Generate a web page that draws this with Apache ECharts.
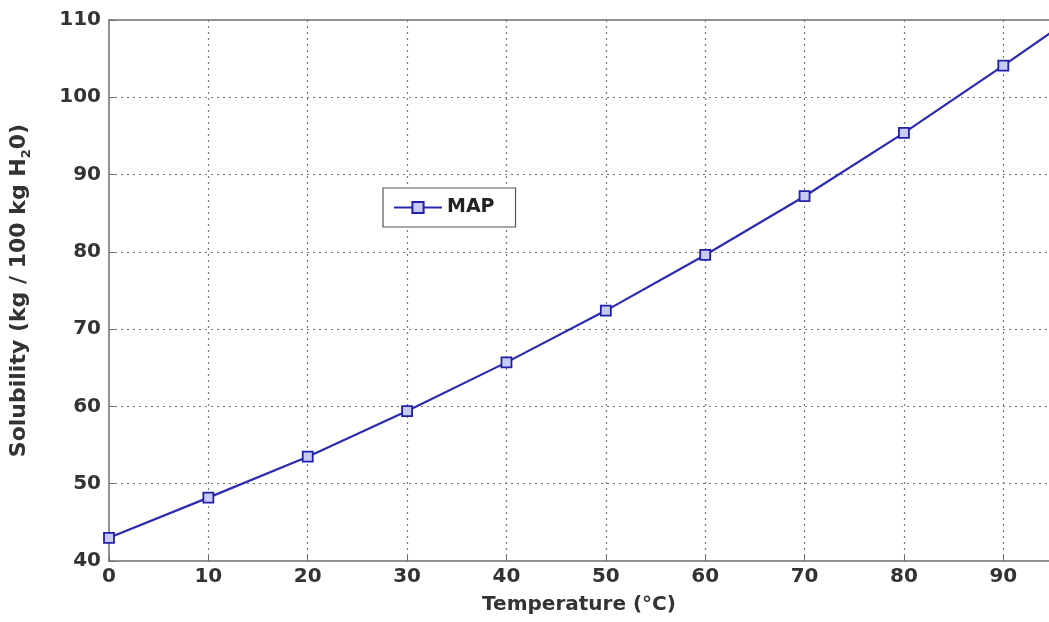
<!DOCTYPE html>
<html>
<head>
<meta charset="utf-8">
<script src="https://cdn.jsdelivr.net/npm/echarts@6/dist/echarts.min.js"></script>
<style>html,body{margin:0;padding:0;background:#fff}#c{width:1049px;height:622px}</style>
</head>
<body>
<div id="c"></div>
<script>
const temperatures = [0, 10, 20, 30, 40, 50, 60, 70, 80, 90, 100];
const solubility = [43.0, 48.2, 53.5, 59.4, 65.7, 72.4, 79.6, 87.2, 95.4, 104.1, 113.0];
const seriesName = 'MAP';
const xTitle = 'Temperature (°C)';

const chart = echarts.init(document.getElementById('c'));
const font = 'DejaVu Sans, Verdana, sans-serif';
const axisGray = '#6e6e6e';
chart.setOption({
  animation: false,
  backgroundColor: '#fff',
  grid: { left: 106, top: 20, bottom: 61, right: 0, show: false },
  legend: {
    left: 383, top: 188, itemWidth: 48, itemHeight: 14, itemGap: 6,
    padding: [10, 21, 10, 10],
    backgroundColor: '#fff', borderColor: '#555', borderWidth: 1.2,
    textStyle: { fontFamily: font, fontSize: 19, fontWeight: 'bold', color: '#222' },
    data: [seriesName]
  },
  xAxis: [{
    type: 'value', min: 0, max: 94.6, interval: 10,
    name: xTitle, nameLocation: 'middle', nameGap: 34,
    nameTextStyle: { fontFamily: font, fontSize: 20, fontWeight: 'bold', color: '#333' },
    axisLine: { show: true, lineStyle: { color: axisGray, width: 1.5 } },
    axisTick: { show: true, inside: true, length: 6, lineStyle: { color: axisGray } },
    axisLabel: { showMaxLabel: false, fontFamily: font, fontSize: 20, fontWeight: 'bold', color: '#333', margin: 6 },
    splitLine: { show: true, showMinLine: false, showMaxLine: false, lineStyle: { color: '#777', type: [2, 4], width: 1.2 } }
  }, {
    type: 'value', position: 'top', min: 0, max: 94.6, interval: 10,
    axisLine: { show: true, lineStyle: { color: axisGray, width: 1.5 } },
    axisTick: { show: false }, axisLabel: { show: false }, splitLine: { show: false }
  }],
  yAxis: {
    type: 'value', min: 40, max: 110, interval: 10,
    name: 'Solubility (kg / 100 kg H{sub|2}0)', nameLocation: 'middle', nameGap: 76, nameRotate: 90,
    nameTextStyle: {
      fontFamily: font, fontSize: 22, fontWeight: 'bold', color: '#333',
      rich: { sub: { fontFamily: font, fontSize: 13, fontWeight: 'bold', color: '#333', verticalAlign: 'bottom', padding: [15, 0, 0, 0] } }
    },
    axisLine: { show: true, lineStyle: { color: axisGray, width: 1.5 } },
    axisTick: { show: true, inside: true, length: 6, lineStyle: { color: axisGray } },
    axisLabel: { fontFamily: font, fontSize: 20, fontWeight: 'bold', color: '#333', margin: 8 },
    splitLine: { show: true, showMinLine: false, showMaxLine: false, lineStyle: { color: '#777', type: [2, 4], width: 1.2 } }
  },
  series: [{
    name: seriesName, type: 'line', xAxisIndex: 0,
    data: temperatures.map((t, i) => [t, solubility[i]]),
    symbol: 'rect', symbolSize: 10,
    lineStyle: { color: '#2b2bb0', width: 2.2 },
    itemStyle: { color: '#c8ccf4', borderColor: '#2020a8', borderWidth: 1.8 },
    clip: true
  }]
});
</script>
</body>
</html>
